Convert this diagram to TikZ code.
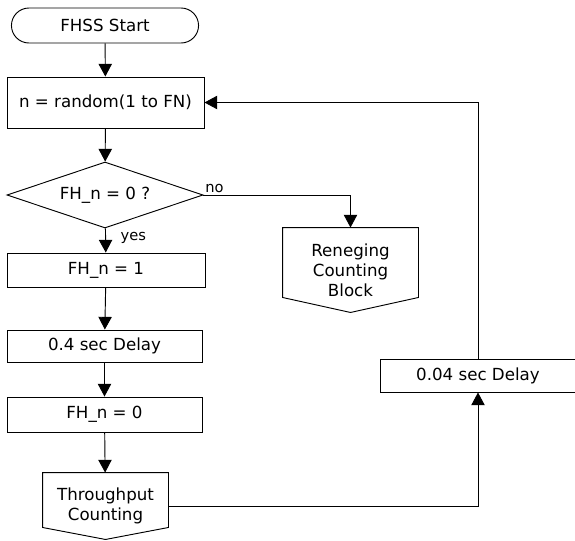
\documentclass[tikz,border=0pt]{standalone}
\usepackage{fontspec}
\setmainfont{DejaVu Sans}
\usetikzlibrary{arrows.meta,shapes.geometric,shapes.misc}

\begin{document}
\begin{tikzpicture}[x=0.75pt,y=-0.75pt,line width=0.7pt,
        every node/.style={font=\fontsize{12.5}{15}\selectfont},
        term/.style={draw, rounded rectangle, minimum width=147pt, minimum height=26.25pt},
        box/.style={draw, minimum width=147pt, minimum height=25pt, inner sep=2pt},
        decision/.style={draw, diamond, aspect=3, minimum width=147pt, minimum height=49.5pt, inner sep=1pt},
        offpage/.style={align=center, inner sep=0pt},
        lbl/.style={font=\fontsize{11}{13}\selectfont, inner sep=1pt},
        arr/.style={-{Triangle[width=10pt,length=9.5pt]}}]
        \useasboundingbox (0,0) rectangle (575,540);

        % left column
        \node[term] (start) at (105,25.5) {FHSS Start};
        \node[box, minimum width=147.75pt, minimum height=38.25pt] (rand) at (105.5,102.5) {n = random(1 to FN)};
        \node[decision] (chk) at (105,195) {FH\_n = 0 ?};
        \node[box, minimum width=148.5pt, minimum height=25.5pt] (set1) at (106,270) {FH\_n = 1};
        \node[box, minimum width=146.25pt, minimum height=24pt] (dly4) at (104.5,346) {0.4 sec Delay};
        \node[box, minimum width=146.25pt, minimum height=26.25pt] (set0) at (104.5,414.5) {FH\_n = 0};
        \node[offpage, minimum width=93.75pt, minimum height=49.5pt] (thru) at (105.5,506) {Throughput\\Counting};

        % right side
        \node[offpage, minimum width=101.25pt, minimum height=63pt] (reneg) at (350.5,270) {Reneging\\Counting\\Block};
        \node[box, minimum width=147pt, minimum height=24.75pt] (dly04) at (478,375.5) {0.04 sec Delay};

        % off-page outlines
        \draw (thru.north west) -- (thru.north east) -- ([yshift=9pt]thru.south east)
            -- (thru.south) -- ([yshift=9pt]thru.south west) -- cycle;
        \draw (reneg.north west) -- (reneg.north east) -- ([yshift=11.25pt]reneg.south east)
            -- (reneg.south) -- ([yshift=11.25pt]reneg.south west) -- cycle;

        \draw[arr] (start) -- (rand);
        \draw[arr] (rand) -- (chk);
        \draw[arr] (chk.east) -| node[lbl, pos=0, above right] {no} (reneg.north);
        \draw[arr] (chk) -- node[lbl, pos=0.4, right, xshift=10pt] {yes} (set1);
        \draw[arr] (set1) -- (dly4);
        \draw[arr] (dly4) -- (set0);
        \draw[arr] (set0) -- (thru);
        \draw[arr] (thru.east) -| (dly04.south);
        \draw[arr] (dly04.north) |- (rand.east);
    \end{tikzpicture}
\end{document}
